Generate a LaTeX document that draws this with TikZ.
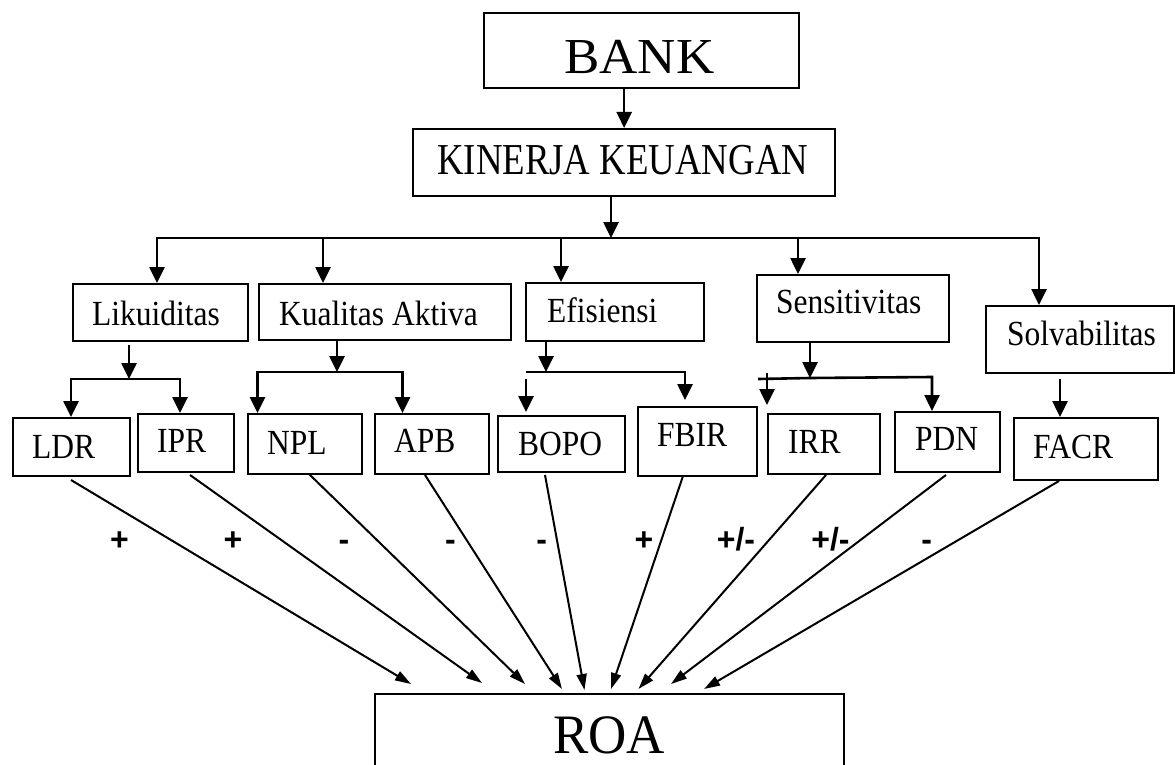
\documentclass[tikz,border=0pt]{standalone}
\usepackage{fontspec}
\usepackage{graphicx}
\setmainfont{Liberation Serif}
\newfontfamily\signfam{Liberation Sans}
\usetikzlibrary{arrows.meta}
\newcommand\boxfont{\fontsize{31.5}{34}\selectfont}
\newcommand\bigfont{\fontsize{53}{56}\selectfont}
\newcommand\midfont{\fontsize{36.8}{40}\selectfont}
\newcommand\signfont{\signfam\bfseries\fontsize{32}{34}\selectfont}
\newcommand\vst[2]{\scalebox{1}[#1]{#2}}
\tikzset{
  box/.style={draw, line width=2.3pt, rectangle, inner sep=0pt, anchor=north west},
  txt/.style={inner sep=0pt, anchor=base west, font=\boxfont},
  tline/.style={line width=2.6pt},
  tarrow/.style={line width=2.6pt, -{Triangle[length=16pt,width=15pt]}},
  rarrow/.style={line width=2pt, -{Triangle[length=16pt,width=10pt]}},
  sign/.style={inner sep=0pt, anchor=base, font=\signfont},
}
\begin{document}
\begin{tikzpicture}[x=1pt,y=-1pt]
\clip (0,0) rectangle (1175,765);
\fill[white] (0,0) rectangle (1175,765);
% boxes
\node[box, minimum width=315pt, minimum height=75pt] (bank) at (483,12) {};
\node[box, minimum width=422pt, minimum height=67pt] (kin) at (412,128) {};
\node[box, minimum width=175.5pt, minimum height=57pt] (lik) at (71.5,283) {};
\node[box, minimum width=252.5pt, minimum height=56pt] (kua) at (257.5,283) {};
\node[box, minimum width=178pt, minimum height=58pt] (efi) at (525,282) {};
\node[box, minimum width=192pt, minimum height=67pt] (sen) at (756,274) {};
\node[box, minimum width=188pt, minimum height=67pt] (sol) at (985,305) {};
\node[box, minimum width=117pt, minimum height=58pt] (ldr) at (12,417) {};
\node[box, minimum width=96pt, minimum height=58pt] (ipr) at (137,413) {};
\node[box, minimum width=114pt, minimum height=60pt] (npl) at (247,413) {};
\node[box, minimum width=114pt, minimum height=60pt] (apb) at (374,413) {};
\node[box, minimum width=127pt, minimum height=56pt] (bopo) at (497,415) {};
\node[box, minimum width=119pt, minimum height=69pt] (fbir) at (637,406) {};
\node[box, minimum width=112pt, minimum height=60pt] (irr) at (767,413) {};
\node[box, minimum width=105pt, minimum height=60pt] (pdn) at (894,411) {};
\node[box, minimum width=144pt, minimum height=62pt] (facr) at (1013,417) {};
\node[box, minimum width=469pt, minimum height=90pt] (roa) at (374,693) {};
% texts
\node[txt, font=\bigfont] (bankt) at (564,74) {\vst{0.95}{BANK}};
\node[txt, font=\midfont] (kint) at (437,175) {\vst{1.2}{KINERJA KEUANGAN}};
\node[txt] (likt) at (92,325) {\vst{1.12}{Likuiditas}};
\node[txt] (kuat) at (279,325) {\vst{1.12}{Kualitas Aktiva}};
\node[txt] (efit) at (547,322) {\vst{1.12}{Efisiensi}};
\node[txt] (sent) at (776,313) {\vst{1.12}{Sensitivitas}};
\node[txt] (solt) at (1007,345) {\vst{1.12}{Solvabilitas}};
\node[txt] (ldrt) at (32,458) {\vst{1.12}{LDR}};
\node[txt] (iprt) at (157,452) {\vst{1.12}{IPR}};
\node[txt] (nplt) at (267,454) {\vst{1.12}{NPL}};
\node[txt] (apbt) at (394,452) {\vst{1.12}{APB}};
\node[txt] (bopot) at (518,455) {\vst{1.12}{BOPO}};
\node[txt] (fbirt) at (657,446) {\vst{1.12}{FBIR}};
\node[txt] (irrt) at (788,453) {\vst{1.12}{IRR}};
\node[txt] (pdnt) at (915,450) {\vst{1.12}{PDN}};
\node[txt] (facrt) at (1033,458) {\vst{1.12}{FACR}};
\node[txt, font=\bigfont] (roat) at (553,753) {\vst{1.05}{ROA}};
% top connectors
\draw[tarrow] (bank.south -| kin.north) -- (kin.north);
\coordinate (bus) at (611,238);
\draw[tarrow] (kin.south -| bus) -- (bus);
\coordinate (b1) at (157,238);
\coordinate (b2) at (323,238);
\coordinate (b3) at (561,238);
\coordinate (b4) at (798,238);
\coordinate (b5) at (1039,238);
\draw[tline] (b2) -- (b4);
\draw[tarrow] (b2) -- (b1) -- (b1 |- lik.north);
\draw[tarrow] (b4) -- (b5) -- (b5 |- sol.north);
\draw[tarrow] (b2) -- (b2 |- kua.north);
\draw[tarrow] (b3) -- (b3 |- efi.north);
\draw[tarrow] (b4) -- (b4 |- sen.north);
% Likuiditas
\coordinate (la) at (129,345);
\coordinate (lb) at (129,379);
\coordinate (lL) at (71,379);
\coordinate (lR) at (180,379);
\draw[tarrow] (la) -- (lb);
\draw[tarrow] (lb) -- (lL) -- (lL |- ldr.north);
\draw[tarrow] (lb) -- (lR) -- (lR |- ipr.north);
% Kualitas Aktiva
\coordinate (kb) at (337,372);
\coordinate (kL) at (257.5,372);
\coordinate (kR) at (402.5,372);
\draw[tarrow] (kua.south -| kb) -- (kb);
\draw[tarrow] (kb) -- (kL) -- (kL |- npl.north);
\draw[tarrow] (kb) -- (kR) -- (kR |- apb.north);
% Efisiensi
\coordinate (eb) at (546,372);
\coordinate (eL) at (526,372);
\coordinate (eR) at (685,372);
\coordinate (eRt) at (685,400);
\coordinate (eLa) at (526,379);
\coordinate (eLt) at (526,412);
\draw[tarrow] (efi.south -| eb) -- (eb);
\draw[tline] (eL) -- (eb);
\draw[tarrow] (eb) -- (eR) -- (eRt);
\draw[tarrow] (eLa) -- (eLt);
% Sensitivitas
\coordinate (sb) at (810,378);
\coordinate (sL) at (758,379);
\coordinate (sR) at (932,377);
\draw[tarrow] (sen.south -| sb) -- (sb);
\draw[tline] (sL) -- (sb);
\draw[tarrow] (sb) -- (sR) -- (sR |- pdn.north);
\coordinate (sta) at (767,373);
\coordinate (stb) at (767,405);
\draw[tarrow] (sta) -- (stb);
% Solvabilitas
\coordinate (sa) at (1060,379);
\draw[tarrow] (sa) -- (sa |- facr.north);
% arrows to ROA
\coordinate (s1) at (71,480);   \coordinate (e1) at (411,684);
\coordinate (s2) at (190,475);  \coordinate (e2) at (482,683);
\coordinate (s3) at (309,474);  \coordinate (e3) at (525,684);
\coordinate (s4) at (425,475);  \coordinate (e4) at (562,689);
\coordinate (s5) at (545,475);  \coordinate (e5) at (584.5,690);
\coordinate (s6) at (683,476);  \coordinate (e6) at (611,689);
\coordinate (s7) at (826,475);  \coordinate (e7) at (638.5,689);
\coordinate (s8) at (946,475);  \coordinate (e8) at (671,684);
\coordinate (s9) at (1059,481); \coordinate (e9) at (704,689);
\foreach \i in {1,...,9} {\draw[rarrow] (s\i) -- (e\i);}
% signs
\node[sign] (g1) at (119.5,550) {+};
\node[sign] (g2) at (233,550) {+};
\node[sign] (g3) at (344,550) {-};
\node[sign] (g4) at (450.5,550) {-};
\node[sign] (g5) at (541.7,550) {-};
\node[sign] (g6) at (644,550) {+};
\node[sign] (g7) at (736,550) {+/-};
\node[sign] (g8) at (830.5,550) {+/-};
\node[sign] (g9) at (926.7,550) {-};
\end{tikzpicture}
\end{document}
